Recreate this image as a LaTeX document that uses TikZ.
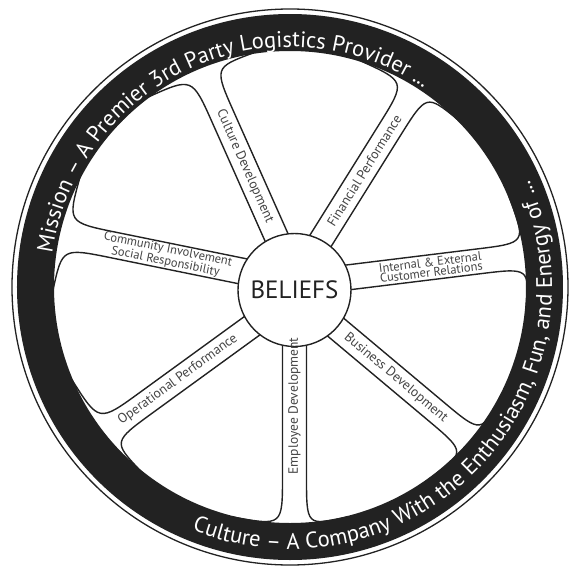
\documentclass[tikz,border=0pt]{standalone}
\usepackage{fontspec}
\setmainfont{PT Sans}
\usetikzlibrary{calc,decorations.text}
\definecolor{ink}{HTML}{222222}
\definecolor{lbltext}{HTML}{444444}
\tikzset{
  spokeline/.style={draw=ink, line width=1.4pt, line cap=round},
  hubnode/.style={
    circle,
    draw=ink,
    line width=1.4pt,
    fill=white,
    minimum size=113pt,
    inner sep=0pt,
    font=\fontsize{25}{25}\selectfont,
    text=ink,
  },
  lbl/.style={font=\fontsize{13.5}{10.5}\selectfont, text=lbltext, inner sep=0pt, align=center},
  small/.style={lbl, font=\fontsize{12.5}{10}\selectfont},
}
\newcommand{\rimfont}{\fontsize{22.5}{22.5}\selectfont\color{white}}

\begin{document}
\begin{tikzpicture}[x=1pt, y=1pt]
  \useasboundingbox (-290,-287) rectangle (279,287);

  \coordinate (hubc) at (4.5,-3);

  % spokes: angle / sideways shift / half width, each edge bends into the rim
  \foreach \ang/\off/\hw in {114/-5/12, 58/4/12, 7/6/12.5, -40/-2/12, -90/0/12, 216/4/12, 168.5/-8/13} {
    \foreach \side in {1,-1} {
      \pgfmathsetmacro{\s}{\off+\hw*\side}
      \pgfmathsetmacro{\endang}{\ang+\s/236*57.3+11*\side}
      \draw[spokeline] ($(hubc)+(\ang:50)+(\ang+90:\s)$)
        -- ($(hubc)+(\ang:186)+(\ang+90:\s)$)
        .. controls ($(hubc)+(\ang:236)+(\ang+90:\s)$) .. (\endang:237);
    }
  }

  \node[hubnode] (hub) at (hubc) {BELIEFS};

  % rim
  \fill[ink, even odd rule] (0,0) circle[radius=273] (0,0) circle[radius=236];
  \draw[ink, line width=1.3pt] (0,0) circle[radius=278];

  \path[decorate, decoration={text along path, text align=center,
      text={|\rimfont|Mission – A Premier 3rd Party Logistics Provider ...}}]
    (176:240) arc[start angle=176, end angle=52, radius=240];
  \path[decorate, decoration={text along path, text align=center,
      text={|\rimfont|Culture – A Company With the Enthusiasm, Fun, and Energy of ...}}]
    (244:262) arc[start angle=244, end angle=388, radius=262];

  % spoke labels
  \node[lbl, rotate=-66] (cul) at ($(hub.center)+(114:133)+(24:5)$) {Culture Development};
  \node[lbl, rotate=58] (fin) at ($(hub.center)+(58:138)+(148:4)$) {Financial Performance};
  \node[small, rotate=7] (cus) at ($(hub.center)+(7:138)+(97:6)$) {Internal \& External\\Customer Relations};
  \node[lbl, rotate=-40] (bus) at ($(hub.center)+(-40:134)+(50:-2)$) {Business Development};
  \node[lbl, rotate=90] (emp) at ($(hub.center)+(-90:116)$) {Employee Development};
  \node[lbl, rotate=36] (ope) at ($(hub.center)+(216:147)+(306:4)$) {Operational Performance};
  \node[small, rotate=-11.5] (com) at ($(hub.center)+(168.5:132)+(258.5:-8)$) {Community Involvement\\Social Responsibility};
\end{tikzpicture}
\end{document}
